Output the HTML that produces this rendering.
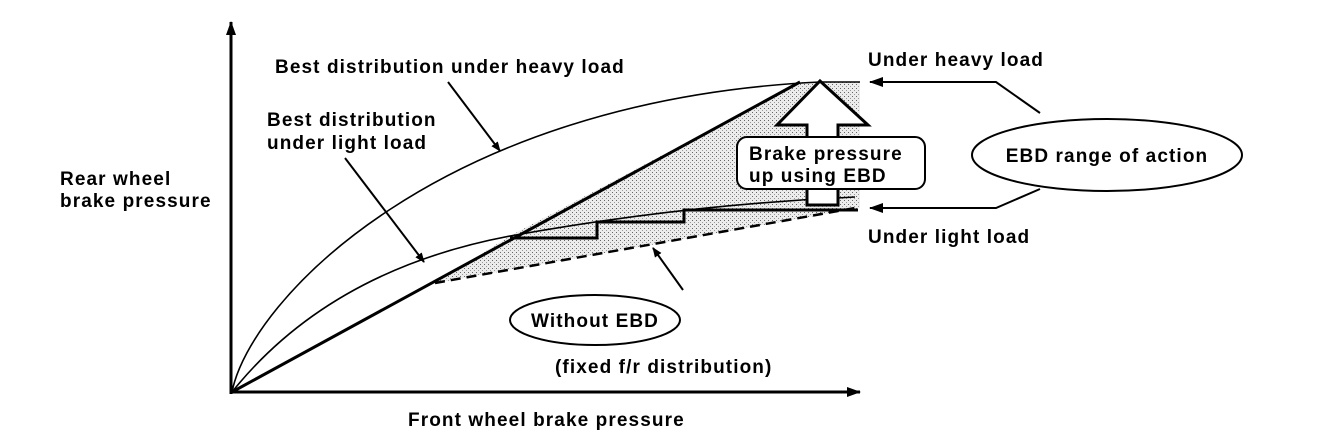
<!DOCTYPE html>
<html><head><meta charset="utf-8"><style>
html,body{margin:0;padding:0;background:#fff;}
svg{display:block;}
text{font-family:"Liberation Sans",sans-serif;font-weight:bold;font-size:19px;letter-spacing:1.1px;fill:#000;}
</style></head><body>
<svg width="1328" height="442" viewBox="0 0 1328 442" xmlns="http://www.w3.org/2000/svg">
<defs>
<pattern id="dots" width="4" height="4" patternUnits="userSpaceOnUse">
<rect width="4" height="4" fill="#ececec"/>
<rect x="0" y="0" width="1" height="1" fill="#666"/>
<rect x="2" y="2" width="1" height="1" fill="#999"/>
</pattern>
<marker id="ah" markerWidth="10" markerHeight="8" refX="9" refY="4" orient="auto" markerUnits="userSpaceOnUse">
<path d="M0,0 L10,4 L0,8 z" fill="#000"/>
</marker>
<marker id="ahb" markerWidth="14" markerHeight="10" refX="13" refY="5" orient="auto" markerUnits="userSpaceOnUse">
<path d="M0,0 L14,5 L0,10 z" fill="#000"/>
</marker>
</defs>
<polygon points="435,283 510,236 800,82 860,82 860,208" fill="url(#dots)"/>
<line x1="231" y1="394" x2="231" y2="22" stroke="#000" stroke-width="3" marker-end="url(#ahb)"/>
<line x1="230" y1="392" x2="860" y2="392" stroke="#000" stroke-width="3" marker-end="url(#ahb)"/>
<path d="M232,392 C250,300 440,100 820,82 L860,82" fill="none" stroke="#000" stroke-width="1.6"/>
<path d="M232,392 Q330,270 510,236 Q680,205 855,197" fill="none" stroke="#000" stroke-width="1.6"/>
<line x1="232" y1="392" x2="800" y2="82" stroke="#000" stroke-width="3"/>
<line x1="435" y1="283" x2="855" y2="208" stroke="#000" stroke-width="2.5" stroke-dasharray="10,6"/>
<polyline points="510,238 597,238 597,222 684,222 684,210 858,210" fill="none" stroke="#000" stroke-width="3"/>
<polygon points="820,81 868,125 838,125 838,205 807,205 807,125 777,125" fill="#fff" stroke="#000" stroke-width="3"/>
<rect x="737" y="137" width="188" height="52" rx="10" fill="#fff" stroke="#000" stroke-width="2"/>
<text x="749" y="160">Brake pressure</text>
<text x="749" y="182">up using EBD</text>
<text x="275" y="73">Best distribution under heavy load</text>
<text x="267" y="126">Best distribution</text>
<text x="267" y="149">under light load</text>
<text x="60" y="185">Rear wheel</text>
<text x="60" y="207">brake pressure</text>
<text x="868" y="66">Under heavy load</text>
<text x="868" y="243">Under light load</text>
<text x="408" y="426">Front wheel brake pressure</text>
<text x="555" y="373">(fixed f/r distribution)</text>
<line x1="448" y1="82" x2="500" y2="151" stroke="#000" stroke-width="2" marker-end="url(#ah)"/>
<line x1="345" y1="158" x2="424" y2="262" stroke="#000" stroke-width="2" marker-end="url(#ah)"/>
<line x1="683" y1="290" x2="653" y2="248" stroke="#000" stroke-width="2" marker-end="url(#ah)"/>
<ellipse cx="595" cy="320" rx="85" ry="25" fill="#fff" stroke="#000" stroke-width="2"/>
<text x="595" y="327" text-anchor="middle">Without EBD</text>
<polyline points="1040,113 996,82 870,82" fill="none" stroke="#000" stroke-width="2" marker-end="url(#ahb)"/>
<polyline points="1040,189 996,208 870,208" fill="none" stroke="#000" stroke-width="2" marker-end="url(#ahb)"/>
<ellipse cx="1107" cy="155" rx="135" ry="36" fill="#fff" stroke="#000" stroke-width="2"/>
<text x="1107" y="162" text-anchor="middle">EBD range of action</text>
</svg>
</body></html>
